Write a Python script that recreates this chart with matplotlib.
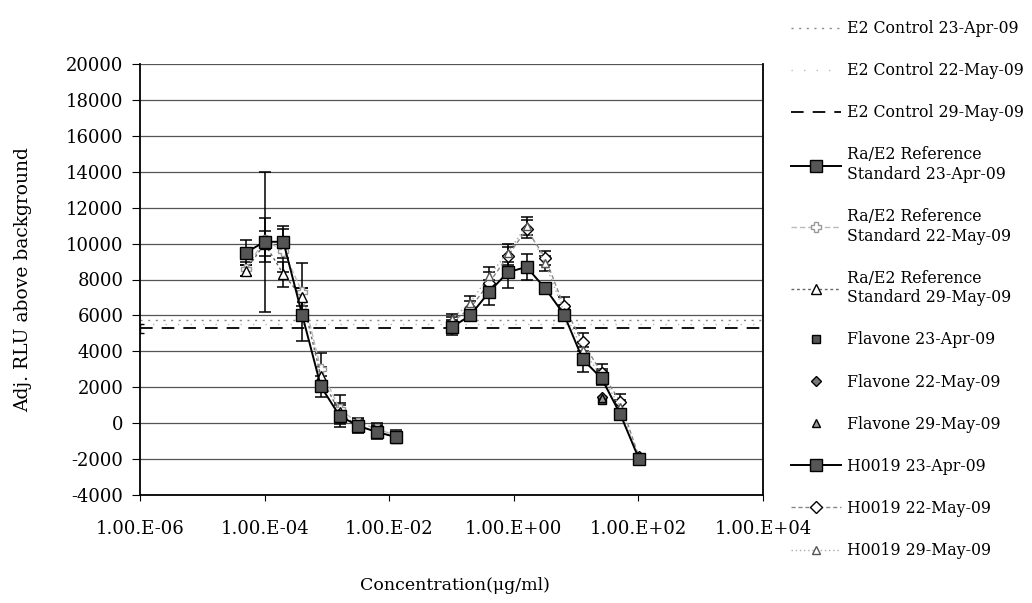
import matplotlib
matplotlib.use("Agg")
import matplotlib.pyplot as plt
from matplotlib.lines import Line2D

plt.rcParams['font.family'] = ['DejaVu Serif']

# concentrations (ug/ml)
conc_ra = [5e-5, 1e-4, 2e-4, 4e-4, 8e-4, 1.6e-3, 3.2e-3, 6.4e-3, 1.28e-2]
conc_h = [0.1, 0.2, 0.4, 0.8, 1.6, 3.2, 6.4, 12.8, 25.6, 51.2, 102.4]
conc_ctrl = [1e-6, 1e4]

# E2 controls
ctrl_apr23 = [5720, 5720]
ctrl_may22 = [5500, 5500]
ctrl_may29 = [5280, 5280]

# Ra/E2 reference standard
ra_apr23 = [9500, 10100, 10100, 6050, 2050, 400, -150, -500, -770]
ra_apr23_err = [700, 3900, 900, 1500, 600, 600, 400, 400, 300]
ra_may22 = [8600, 10200, 9600, 7300, 3000, 780, 0, -300, -700]
ra_may22_err = [400, 1200, 1200, 1600, 900, 800, 300, 300, 300]
ra_may29 = [8500, 10000, 8300, 7000, 2600, 600, -200, -450, -800]
ra_may29_err = [300, 700, 700, 500, 500, 500, 300, 300, 300]

# Flavone (only a few unconnected points visible)
flav_conc = [25.6]
flav_apr23 = [1300]
flav_may22 = [1450]
flav_may29 = [1400]

# H0019
h_apr23 = [5330, 6000, 7300, 8400, 8700, 7500, 6050, 3550, 2500, 500, -2000]
h_apr23_err = [400, 300, 700, 900, 700, 300, 300, 700, 400, 300, 200]
h_may22 = [5600, 6400, 7800, 9300, 10800, 9200, 6500, 4500, 2800, 1200, -1900]
h_may22_err = [300, 400, 600, 500, 500, 400, 500, 500, 500, 400, 200]
h_may29 = [5800, 6700, 8200, 9500, 11000, 8900, 6200, 4100, 2600, 900, -2000]
h_may29_err = [300, 400, 500, 500, 500, 400, 400, 400, 400, 400, 200]

xticks = [1e-6, 1e-4, 1e-2, 1e0, 1e2, 1e4]
xtick_labels = ['1.00.E-06', '1.00.E-04', '1.00.E-02', '1.00.E+00', '1.00.E+02', '1.00.E+04']
yticks = list(range(-4000, 20001, 2000))

fig = plt.figure(figsize=(10.32, 6.03), dpi=100)
ax = fig.add_axes([140 / 1032, 1 - 495 / 603, 623 / 1032, 431 / 603])

styles = [
    # label, line style, color, marker, mfc, mec, lw, ms
    ('E2 Control 23-Apr-09', (0, (1.5, 4)), '#888888', 'None', 'none', 'none', 1, 0),
    ('E2 Control 22-May-09', (0, (1, 8)), '#bbbbbb', 'None', 'none', 'none', 1, 0),
    ('E2 Control 29-May-09', (0, (7, 5)), 'black', 'None', 'none', 'none', 1.3, 0),
    ('Ra/E2 Reference\nStandard 23-Apr-09', '-', 'black', 's', '#555555', 'black', 1.4, 8),
    ('Ra/E2 Reference\nStandard 22-May-09', (0, (4, 2)), '#bbbbbb', 'P', 'white', '#999999', 1, 7),
    ('Ra/E2 Reference\nStandard 29-May-09', (0, (2, 2)), '#666666', '^', 'white', 'black', 1, 7),
    ('Flavone 23-Apr-09', 'None', 'black', 's', '#555555', 'black', 1, 6),
    ('Flavone 22-May-09', 'None', 'black', 'D', '#777777', 'black', 1, 5),
    ('Flavone 29-May-09', 'None', 'black', '^', '#999999', 'black', 1, 6),
    ('H0019 23-Apr-09', '-', 'black', 's', '#555555', 'black', 1.4, 8),
    ('H0019 22-May-09', (0, (3, 2)), '#888888', 'D', 'white', 'black', 1, 6),
    ('H0019 29-May-09', (0, (1, 2)), '#aaaaaa', '^', 'white', '#555555', 1, 6),
]
st = {s[0]: s for s in styles}

def draw(x, y, label, yerr=None):
    _, ls, c, m, mfc, mec, lw, ms = st[label]
    if yerr is None:
        ax.plot(x, y, ls=ls, color=c, marker=m, mfc=mfc, mec=mec, lw=lw, ms=ms)
    else:
        ax.errorbar(x, y, yerr=yerr, ls=ls, color=c, marker=m, mfc=mfc, mec=mec, lw=lw, ms=ms,
                    capsize=4, elinewidth=1.1, capthick=1.1, ecolor='black')

draw(conc_ctrl, ctrl_apr23, 'E2 Control 23-Apr-09')
draw(conc_ctrl, ctrl_may22, 'E2 Control 22-May-09')
draw(conc_ctrl, ctrl_may29, 'E2 Control 29-May-09')
ax.errorbar([1e-6], [ctrl_may29[0]], yerr=[250], fmt='none', ecolor='black', capsize=3, lw=1)

draw(conc_ra, ra_may22, 'Ra/E2 Reference\nStandard 22-May-09', ra_may22_err)
draw(conc_ra, ra_may29, 'Ra/E2 Reference\nStandard 29-May-09', ra_may29_err)
draw(conc_ra, ra_apr23, 'Ra/E2 Reference\nStandard 23-Apr-09', ra_apr23_err)

draw(flav_conc, flav_apr23, 'Flavone 23-Apr-09')
draw(flav_conc, flav_may22, 'Flavone 22-May-09')
draw(flav_conc, flav_may29, 'Flavone 29-May-09')

draw(conc_h, h_may22, 'H0019 22-May-09', h_may22_err)
draw(conc_h, h_may29, 'H0019 29-May-09', h_may29_err)
draw(conc_h, h_apr23, 'H0019 23-Apr-09', h_apr23_err)

ax.set_xscale('log')
ax.set_xlim(1e-6, 1e4)
ax.set_ylim(-4000, 20000)
ax.set_xticks(xticks)
ax.set_xticklabels(xtick_labels)
ax.minorticks_off()
ax.set_yticks(yticks)
ax.set_yticklabels([str(v) for v in yticks])
ax.tick_params(axis='both', labelsize=13, direction='out')
ax.tick_params(axis='y', length=6, pad=6)
ax.tick_params(axis='x', length=4, pad=14)
ax.yaxis.grid(True, color='#555555', lw=0.9)
ax.set_axisbelow(True)
ax.spines['top'].set_visible(False)
for s in ['left', 'bottom', 'right']:
    ax.spines[s].set_color('black')
    ax.spines[s].set_linewidth(1.3)

ax.set_ylabel('Adj. RLU above background', fontsize=13.5, labelpad=24)
fig.text(455 / 1032, 1 - 585 / 603, 'Concentration(μg/ml)', fontsize=12.5, ha='center', va='center')

handles = [Line2D([], [], ls=s[1], color=s[2], marker=s[3], mfc=s[4], mec=s[5], lw=s[6], ms=s[7])
           for s in styles]
fig.legend(handles, [s[0] for s in styles], loc='upper left', bbox_to_anchor=(780 / 1032, 0.985),
           frameon=False, fontsize=11.3, handlelength=3.2, handletextpad=0.4, labelspacing=1.6,
           borderaxespad=0.3)

fig.savefig('out.png', dpi=100)
